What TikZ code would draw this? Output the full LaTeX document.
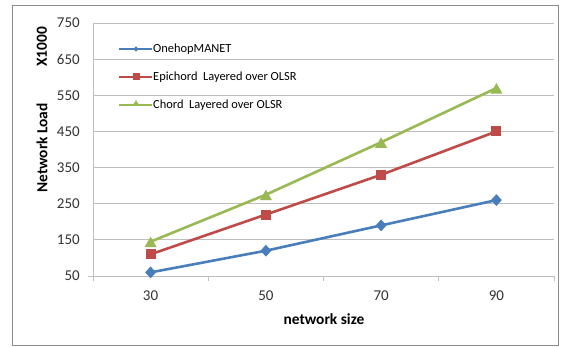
\documentclass[tikz,border=0pt]{standalone}
\usepackage{fontspec}
\setmainfont{Carlito}
\usetikzlibrary{shapes.geometric}
\definecolor{cblue}{HTML}{4A7EBB}
\definecolor{cred}{HTML}{BE4B48}
\definecolor{cgreen}{HTML}{98B954}
\definecolor{cgrid}{HTML}{BFBFBF}
\definecolor{cframe}{HTML}{8C8C8C}
\tikzset{
  grid/.style={draw=cgrid, line width=0.9pt},
  ticklab/.style={font=\fontsize{15}{15}\selectfont, text=black!80, inner sep=0pt},
  axtitle/.style={font=\fontsize{15.4}{16}\selectfont\bfseries, inner sep=0pt},
  leglab/.style={font=\fontsize{12.4}{13}\selectfont, anchor=west, inner sep=0pt},
  serline/.style={line width=2.6pt, line join=round},
  dmark/.style={diamond, fill=cblue, minimum width=11pt, minimum height=12pt, inner sep=0pt},
  smark/.style={rectangle, fill=cred, minimum size=10pt, inner sep=0pt},
  tmark/.style={regular polygon, regular polygon sides=3, fill=cgreen, minimum size=14pt, inner sep=0pt},
}
\begin{document}
\begin{tikzpicture}[x=1pt, y=-1pt]
\useasboundingbox (0,0) rectangle (562,347);
\fill[white] (0,0) rectangle (562,347);
\draw[cframe, line width=0.9pt] (12,5) rectangle (558,345);
% gridlines
\foreach \v in {150,250,...,750} {
  \draw[grid] (93,{276-(\v-50)*0.3614}) -- (554,{276-(\v-50)*0.3614});
}
\foreach \v in {50,150,...,750} {
  \node[ticklab, anchor=east] at (80,{276-(\v-50)*0.3614}) {\v};
}
% axes
\draw[grid] (93,23) -- (93,276);
\draw[grid] (88,276) -- (554,276);
\foreach \x in {93,208.25,323.5,438.75,554} { \draw[grid] (\x,276) -- (\x,281); }
\foreach \x/\l in {150.6/30,265.9/50,381.1/70,496.4/90} {
  \node[ticklab] at (\x,296) {\l};
}
\node[axtitle] (xt) at (324,319) {network size};
\node[axtitle, rotate=90] (yt) at (42,148) {Network Load};
\node[axtitle, rotate=90] (yk) at (42,47) {X1000};
% data coordinates
\newcommand{\yv}[1]{276-(#1-50)*0.3614}
\foreach \n/\x/\a/\b/\c in {1/150.6/60/110/145, 2/265.9/120/220/275, 3/381.1/190/330/420, 4/496.4/260/450/570} {
  \coordinate (o\n) at (\x,{\yv{\a}});
  \coordinate (e\n) at (\x,{\yv{\b}});
  \coordinate (c\n) at (\x,{\yv{\c}});
}
\draw[serline, cblue] (o1) -- (o2) -- (o3) -- (o4);
\draw[serline, cred] (e1) -- (e2) -- (e3) -- (e4);
\draw[serline, cgreen] (c1) -- (c2) -- (c3) -- (c4);
\foreach \n in {1,2,3,4} {
  \node[dmark] (mo\n) at (o\n) {};
  \node[smark] (me\n) at (e\n) {};
  \node[tmark] (mc\n) at ([yshift=-2pt]c\n) {};
}
% legend
\coordinate (l1a) at (119,49); \coordinate (l1b) at (152,49);
\coordinate (l2a) at (119,77); \coordinate (l2b) at (152,77);
\coordinate (l3a) at (119,105); \coordinate (l3b) at (152,105);
\draw[cblue, line width=2pt] (l1a) -- (l1b);
\draw[cred, line width=2pt] (l2a) -- (l2b);
\draw[cgreen, line width=2pt] (l3a) -- (l3b);
\node[diamond, fill=cblue, minimum width=5pt, minimum height=5.5pt, inner sep=0pt] (lm1) at (136,49) {};
\node[rectangle, fill=cred, minimum size=7pt, inner sep=0pt] (lm2) at (136,77) {};
\node[regular polygon, regular polygon sides=3, fill=cgreen, minimum size=8pt, inner sep=0pt] (lm3) at (136,104) {};
\node[leglab] (lt1) at (153,49) {OnehopMANET};
\node[leglab] (lt2) at (153,77) {Epichord\ \ Layered over OLSR};
\node[leglab] (lt3) at (153,105) {Chord\ \ Layered over OLSR};
\end{tikzpicture}
\end{document}
